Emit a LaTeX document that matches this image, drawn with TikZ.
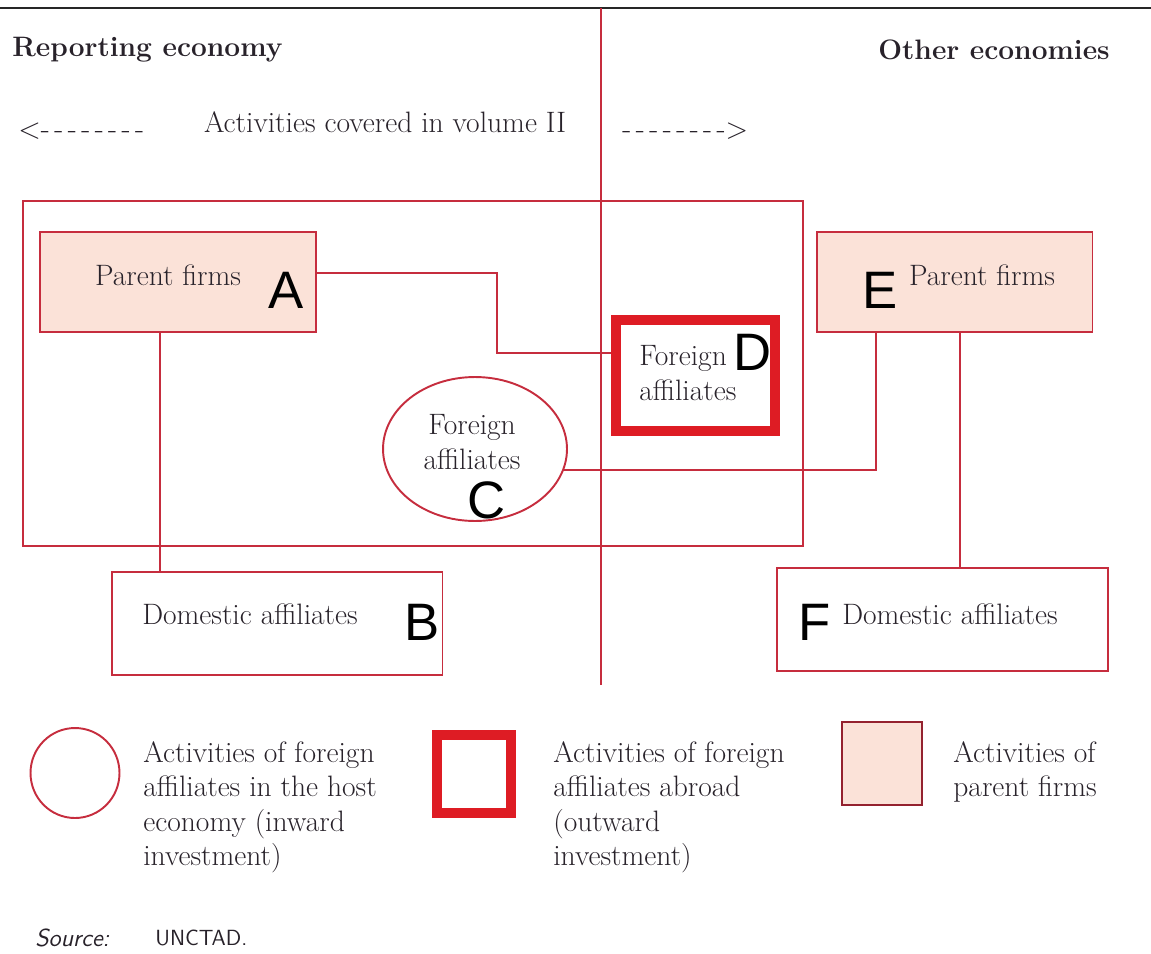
\documentclass[tikz,border=0pt]{standalone}
\usepackage{fontspec}
\usetikzlibrary{shapes.geometric}
\newfontfamily\letterfont{Liberation Sans}
\definecolor{linered}{RGB}{198,45,62}
\definecolor{boldred}{RGB}{222,28,36}
\definecolor{pinkfill}{RGB}{251,226,216}
\definecolor{inkgray}{RGB}{40,34,42}
\newcommand\dashrun{-\kern2.6pt-\kern2.6pt-\kern2.6pt-\kern2.6pt-\kern2.6pt-\kern2.6pt-\kern2.6pt-}
\tikzset{
  redline/.style={draw=linered,line width=1.1pt},
  parentbox/.style={redline,fill=pinkfill,minimum width=5.52cm,minimum height=2cm},
  domesticbox/.style={redline,minimum width=6.62cm,minimum height=2.06cm},
  abroadbox/.style={draw=boldred,line width=5.6pt,minimum width=3.18cm,minimum height=2.22cm},
  hostoval/.style={redline,ellipse,minimum width=3.68cm,minimum height=2.88cm},
  txt/.style={text=inkgray,font=\fontsize{16.8}{19.6}\selectfont,align=left,inner sep=0pt},
  headtxt/.style={txt,font=\fontsize{16}{19.5}\selectfont\bfseries},
  tag/.style={font=\fontsize{30}{30}\selectfont\letterfont,inner sep=0pt},
  link/.style={draw=linered,line width=1.1pt},
}
\begin{document}
\begin{tikzpicture}[x=0.02cm,y=-0.02cm]
  \useasboundingbox (0,0) rectangle (1151,953);
  % top rule and divider
  \coordinate (ruleL) at (0,8);
  \coordinate (ruleR) at (1151,8);
  \draw[line width=1.7pt,black!85] (ruleL) -- (ruleR);
  \node[redline,minimum width=15.6cm,minimum height=6.9cm] (host) at (413,373.5) {};
  \coordinate (divTop) at (601,8);
  \coordinate (divBot) at (601,685);
  \draw[link] (divTop) -- (divBot);

  % headings
  \node[headtxt,anchor=west] (repHead) at (12,50) {Reporting economy};
  \node[headtxt,anchor=east] (othHead) at (1110,50) {Other economies};
  \node[txt,anchor=west] (leftArr) at (18,131) {<\dashrun};
  \node[txt] (volTxt) at (385,122) {Activities covered in volume II};
  \node[txt,anchor=west] (rightArr) at (622,131) {\dashrun>};

  % boxes
  \node[parentbox] (parA) at (178,282) {};
  \node[txt] (parAtxt) at (168,275) {Parent firms};
  \node[parentbox] (parE) at (954.5,282) {};
  \node[txt] (parEtxt) at (982,275) {Parent firms};
  \node[abroadbox] (affD) at (695.5,375.5) {};
  \node[txt,anchor=west] (affDtxt) at (639,373) {Foreign\\affiliates};
  \node[hostoval] (affC) at (475,449) {};
  \node[txt,align=center] (affCtxt) at (472,442) {Foreign\\affiliates};
  \node[domesticbox] (domB) at (277,623.5) {};
  \node[txt] (domBtxt) at (250,614) {Domestic affiliates};
  \node[domesticbox] (domF) at (942.5,619.5) {};
  \node[txt] (domFtxt) at (950,614) {Domestic affiliates};

  % letters
  \node[tag] (tagA) at (286,290) {A};
  \node[tag] (tagB) at (422,622) {B};
  \node[tag] (tagC) at (487,500) {C};
  \node[tag] (tagD) at (753,352) {D};
  \node[tag] (tagE) at (880,290) {E};
  \node[tag] (tagF) at (815,622) {F};

  % links
  \coordinate (kneeAD) at (497,353);
  \draw[link] ([yshift=0.18cm]parA.east) -| (kneeAD) -- (kneeAD -| affD.west);
  \draw[link] (affC.-13) -| ([xshift=-1.57cm]parE.south);
  \draw[link] ([xshift=-0.36cm]parA.south) -- ([xshift=-0.36cm]parA.south |- domB.north);
  \draw[link] ([xshift=0.11cm]parE.south) -- ([xshift=0.11cm]parE.south |- domF.north);

  % key
  \node[hostoval,minimum width=1.78cm,minimum height=1.8cm] (keyC) at (75,773) {};
  \node[txt,anchor=north west] (keyCtxt) at (143,741) {Activities of foreign\\affiliates in the host\\economy (inward\\investment)};
  \node[abroadbox,minimum width=1.48cm,minimum height=1.56cm] (keyD) at (474,774) {};
  \node[txt,anchor=north west] (keyDtxt) at (553,741) {Activities of foreign\\affiliates abroad\\(outward\\investment)};
  \node[redline,draw=linered!75!black,fill=pinkfill,minimum width=1.6cm,minimum height=1.66cm] (keyA) at (882,763.5) {};
  \node[txt,anchor=north west] (keyAtxt) at (953,741) {Activities of\\parent firms};

  % source
  \node[anchor=west,inner sep=0pt,text=inkgray,font=\fontsize{14}{16}\selectfont\sffamily\itshape] (srcLbl) at (35,938) {Source:};
  \node[anchor=west,inner sep=0pt,text=inkgray,font=\fontsize{12.5}{16}\selectfont\sffamily] (srcOrg) at (155,938) {UNCTAD.};
\end{tikzpicture}
\end{document}
